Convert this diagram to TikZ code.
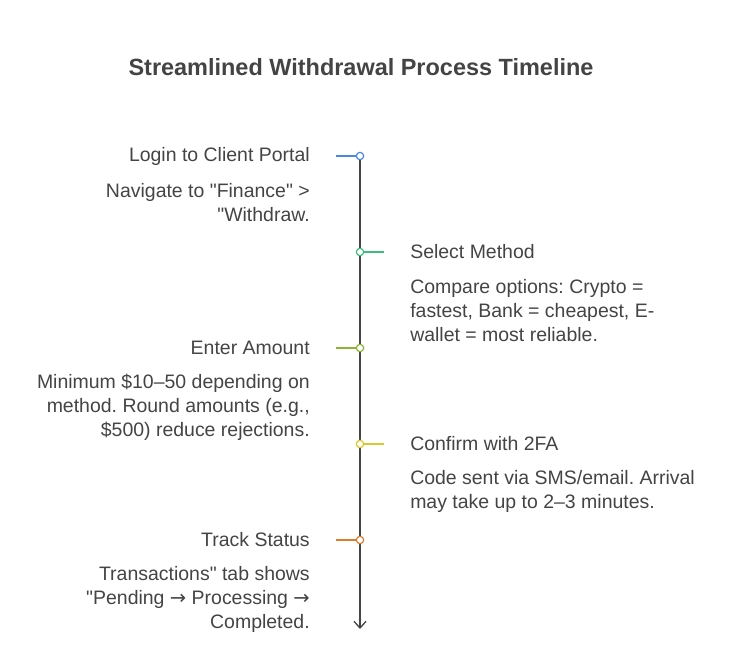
\documentclass[tikz,border=0pt]{standalone}
\usepackage{fontspec}
\setmainfont{Liberation Sans}[Ligatures=TeXOff]
\usetikzlibrary{arrows.meta}
\frenchspacing
\definecolor{txt}{HTML}{444444}
\definecolor{cA}{HTML}{4A86E8}
\definecolor{cB}{HTML}{3DBE7A}
\definecolor{cC}{HTML}{8DB531}
\definecolor{cD}{HTML}{D9C92B}
\definecolor{cE}{HTML}{E07B2E}
\begin{document}
\begin{tikzpicture}[x=0.75pt,y=-0.75pt,
  lbl/.style={text=txt,font=\fontsize{14.6}{18}\selectfont,inner sep=0pt},
  lt/.style={lbl,anchor=east,align=right},
  rt/.style={lbl,anchor=west,align=left},
  mk/.style={circle,draw=#1,fill=white,line width=0.9pt,inner sep=0pt,minimum size=5.5pt},
  stub/.style={draw=#1,line width=1pt}]
\useasboundingbox (0,0) rectangle (732,645);
\node[lbl,font=\bfseries\fontsize{17.6}{20}\selectfont] (title) at (361,67) {Streamlined Withdrawal Process Timeline};
\coordinate (top) at (360,156);
\coordinate (bot) at (360,629);
\draw[txt,line width=1pt,-{Straight Barb[length=5pt,width=9pt]}] (top) -- (bot);
\coordinate (sA) at (336,156); \coordinate (sB) at (384,252); \coordinate (sC) at (336,348);
\coordinate (sD) at (384,444); \coordinate (sE) at (336,540);
\node[mk=cA] (mA) at (360,156) {}; \draw[stub=cA] (sA) -- (mA);
\node[mk=cB] (mB) at (360,252) {}; \draw[stub=cB] (mB) -- (sB);
\node[mk=cC] (mC) at (360,348) {}; \draw[stub=cC] (sC) -- (mC);
\node[mk=cD] (mD) at (360,444) {}; \draw[stub=cD] (mD) -- (sD);
\node[mk=cE] (mE) at (360,540) {}; \draw[stub=cE] (sE) -- (mE);
\node[lt] (tA) at (310,156) {Login to Client Portal};
\node[lt] (dA) at (310,203) {Navigate to "Finance" >\\"Withdraw.};
\node[rt] (tB) at (410,252) {Select Method};
\node[rt] (dB) at (410,311) {Compare options: Crypto =\\fastest, Bank = cheapest, E-\\wallet = most reliable.};
\node[lt] (tC) at (310,348) {Enter Amount};
\node[lt] (dC) at (310,407) {Minimum \$10–50 depending on\\method. Round amounts (e.g.,\\\$500) reduce rejections.};
\node[rt] (tD) at (410,444) {Confirm with 2FA};
\node[rt] (dD) at (410,491) {Code sent via SMS/email. Arrival\\may take up to 2–3 minutes.};
\node[lt] (tE) at (310,540) {Track Status};
\node[lt] (dE) at (310,599) {Transactions" tab shows\\"Pending {\fontspec{DejaVu Sans}→} Processing {\fontspec{DejaVu Sans}→}\\Completed.};
\end{tikzpicture}
\end{document}
